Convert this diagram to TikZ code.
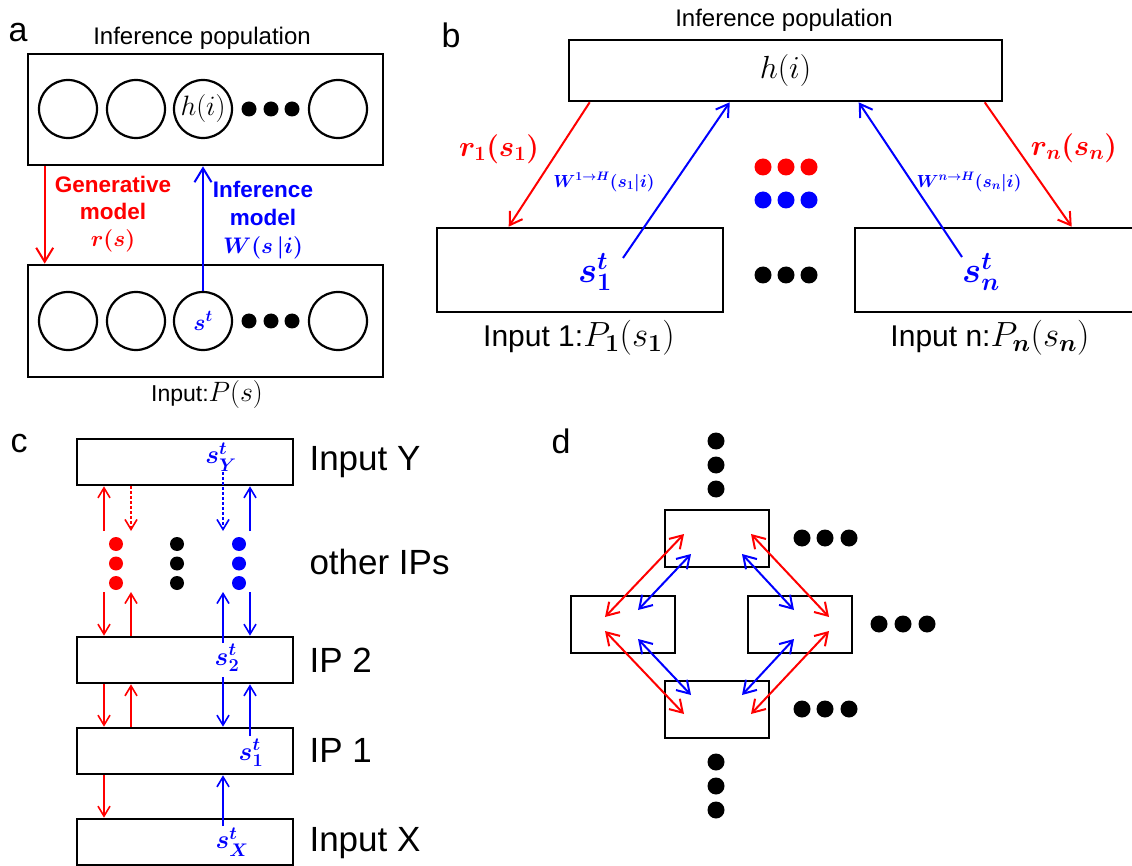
\documentclass[tikz,border=0pt]{standalone}
\usepackage{fix-cm}
\usepackage[no-math]{fontspec}
\setmainfont{Liberation Sans}
\usepackage{amsmath,bm}
\usetikzlibrary{arrows.meta}
\newcommand{\fsz}[2]{\fontsize{#1}{#2}\selectfont}
\begin{document}
\begin{tikzpicture}[x=1pt,y=-1pt,
  box/.style={draw,line width=2.6pt,inner sep=0pt},
  cell/.style={draw,circle,line width=2.2pt,minimum size=58pt,inner sep=0pt},
  bdot/.style={circle,fill=black,inner sep=0pt,minimum size=#1},
  rdot/.style={circle,fill=red,inner sep=0pt,minimum size=#1},
  udot/.style={circle,fill=blue,inner sep=0pt,minimum size=#1},
  panel/.style={font=\fsz{34}{36}},
  arrA/.style={-{Straight Barb[length=14pt,width=17pt]},line width=2pt},
  arrB/.style={-{Straight Barb[length=12pt,width=15pt]},line width=2pt},
  arrC/.style={-{Straight Barb[length=10pt,width=12pt]},line width=1.6pt},
  arrD/.style={{Straight Barb[length=12pt,width=15pt]}-{Straight Barb[length=12pt,width=15pt]},line width=2pt},
  dsh/.style={dash pattern=on 3pt off 2pt},
  sym/.style={inner sep=0pt,text=blue}
]
\useasboundingbox (0,0) rectangle (1132,866);
\fill[white] (0,0) rectangle (1132,866);

%% ---------------- panel a ----------------
\node[panel] (la) at (18,33) {a};
\node[font=\fsz{24}{26}] (atitle) at (202,38) {Inference population};
\node[box,minimum width=355pt,minimum height=111pt] (atop) at (205.5,109.5) {};
\node[cell] (at1) at (68,109) {};
\node[cell] (at2) at (136,109) {};
\node[cell] (at3) at (203,109) {\fsz{28}{30}$h(i)$};
\node[cell] (at4) at (338,109) {};
\node[bdot=15pt] (atd1) at (249,109) {};
\node[bdot=15pt] (atd2) at (271,109) {};
\node[bdot=15pt] (atd3) at (292,109) {};
\node[box,minimum width=355pt,minimum height=112pt] (abot) at (205.5,321) {};
\node[cell] (ab1) at (68,321) {};
\node[cell] (ab2) at (136,321) {};
\node[cell] (ab3) at (203,321) {\color{blue}\fsz{23}{25}$\bm{s^t}$};
\node[cell] (ab4) at (338,321) {};
\node[bdot=15pt] (abd1) at (249,321) {};
\node[bdot=15pt] (abd2) at (271,321) {};
\node[bdot=15pt] (abd3) at (292,321) {};
\draw[arrA,red] ([xshift=18pt]atop.south west) -- ([xshift=18pt]abot.north west);
\draw[arrA,blue] (ab3.north) -- (ab3.north |- atop.south);
\node[text=red,font=\bfseries\fsz{22.5}{27},align=center] (agen) at (113,214)
  {Generative\\model\\$\bm{r(s)}$};
\node[text=blue,font=\bfseries\fsz{22.5}{28},align=center] (ainf) at (263,220)
  {Inference\\model\\$\bm{W(s\,|i)}$};
\node[font=\fsz{23}{25}] (ainput) at (207,395) {Input:\fsz{28}{30}$P(s)$};

%% ---------------- panel b ----------------
\node[panel] (lb) at (451,35) {b};
\node[font=\fsz{24}{26}] (btitle) at (784,20) {Inference population};
\node[box,minimum width=433pt,minimum height=61pt] (btop) at (785.5,70.5) {\fsz{32}{34}$h(i)$};
\node[box,minimum width=286pt,minimum height=84pt] (bl) at (580,270) {};
\node[box,minimum width=286pt,minimum height=84pt] (br) at (998,270) {};
\node[sym,font=\fsz{36}{38}] (bs1) at (595,272) {$\bm{s_1^t}$};
\node[sym,font=\fsz{36}{38}] (bsn) at (981,272) {$\bm{s_n^t}$};
\coordinate (bs1tail) at (623,258);
\coordinate (bsntail) at (962,257);
\draw[arrB,red] ([xshift=22pt]btop.south west) -- ([xshift=73pt]bl.north west);
\draw[arrB,blue] (bs1tail) -- ([xshift=162pt]btop.south west);
\draw[arrB,blue] (bsntail) -- ([xshift=291pt]btop.south west);
\draw[arrB,red] ([xshift=417pt]btop.south west) -- ([xshift=218pt]br.north west);
\node[text=red,font=\fsz{29}{31}] (br1) at (499,149) {$\bm{r_1(s_1)}$};
\node[text=red,font=\fsz{29}{31}] (brn) at (1074,148) {$\bm{r_n(s_n)}$};
\node[text=blue,font=\fsz{17.5}{19}] (bw1) at (604,182) {$\bm{W^{1\to H}(s_1|i)}$};
\node[text=blue,font=\fsz{17.5}{19}] (bwn) at (969,182) {$\bm{W^{n\to H}(s_n|i)}$};
\foreach \i/\x in {1/763,2/786,3/809}{
  \node[rdot=17pt] (brd\i) at (\x,167) {};
  \node[udot=17pt] (bud\i) at (\x,200) {};
  \node[bdot=17pt] (bbd\i) at (\x,275) {};
}
\node[font=\fsz{30}{32}] (bin1) at (579,338) {Input 1:\fsz{35}{37}$P_{\bm 1}(s_{\bm 1})$};
\node[font=\fsz{30}{32}] (binn) at (990,338) {Input n:\fsz{35}{37}$P_{\bm n}(s_{\bm n})$};

%% ---------------- panel c ----------------
\node[panel] (lc) at (19,444) {c};
\node[box,minimum width=216pt,minimum height=46pt] (cY) at (185,462) {};
\node[box,minimum width=216pt,minimum height=46pt] (c2) at (185,660) {};
\node[box,minimum width=216pt,minimum height=46pt] (c1) at (185,751) {};
\node[box,minimum width=216pt,minimum height=46pt] (cX) at (185,842) {};
\node[sym,font=\fsz{26}{28}] (sY) at (221,457) {$\bm{s_Y^t}$};
\node[sym,font=\fsz{26}{28}] (s2) at (227,658) {$\bm{s_2^t}$};
\node[sym,font=\fsz{26}{28}] (s1) at (251,753) {$\bm{s_1^t}$};
\node[sym,font=\fsz{26}{28}] (sX) at (232,842) {$\bm{s_X^t}$};
\node[font=\fsz{35}{37},anchor=west] (tY) at (306,462) {Input Y};
\node[font=\fsz{35}{37},anchor=west] (tO) at (306,562) {other IPs};
\node[font=\fsz{35}{37},anchor=west] (t2) at (306,660) {IP 2};
\node[font=\fsz{35}{37},anchor=west] (t1) at (306,750) {IP 1};
\node[font=\fsz{35}{37},anchor=west] (tX) at (306,843) {Input X};
\foreach \i/\y in {1/544,2/563.5,3/583}{
  \node[rdot=14pt] (crd\i) at (116,\y) {};
  \node[bdot=14pt] (cbd\i) at (177,\y) {};
  \node[udot=14pt] (cud\i) at (239,\y) {};
}
\coordinate (x1) at (104,0);
\coordinate (x2) at (131,0);
\coordinate (x3) at (223,0);
\coordinate (x4) at (250,0);
\coordinate (cA) at (0,531);
\coordinate (cB) at (0,592);
\coordinate (cS2t) at (0,643);
\coordinate (cS2b) at (0,677);
\coordinate (cS1t) at (0,736);
\coordinate (cSXt) at (0,826);
\coordinate (cSYb) at (0,472);
% Input Y <-> other IPs
\draw[arrC,red] (x1 |- cA) -- (x1 |- cY.south);
\draw[arrC,red,dsh] (x2 |- cY.south) -- (x2 |- cA);
\draw[arrC,blue,dsh] (x3 |- cSYb) -- (x3 |- cA);
\draw[arrC,blue] (x4 |- cA) -- (x4 |- cY.south);
% other IPs <-> IP 2
\draw[arrC,red] (x1 |- cB) -- (x1 |- c2.north);
\draw[arrC,red] (x2 |- c2.north) -- (x2 |- cB);
\draw[arrC,blue] (x3 |- cS2t) -- (x3 |- cB);
\draw[arrC,blue] (x4 |- cB) -- (x4 |- c2.north);
% IP 2 <-> IP 1
\draw[arrC,red] (x1 |- c2.south) -- (x1 |- c1.north);
\draw[arrC,red] (x2 |- c1.north) -- (x2 |- c2.south);
\draw[arrC,blue] (x3 |- cS2b) -- (x3 |- c1.north);
\draw[arrC,blue] (x4 |- cS1t) -- (x4 |- c2.south);
% IP 1 <-> Input X
\draw[arrC,red] (x1 |- c1.south) -- (x1 |- cX.north);
\draw[arrC,blue] (x3 |- cSXt) -- (x3 |- c1.south);

%% ---------------- panel d ----------------
\node[panel] (ld) at (561,441) {d};
\node[box,minimum width=104pt,minimum height=57pt] (dT) at (717,538.5) {};
\node[box,minimum width=104pt,minimum height=57pt] (dL) at (623,624.5) {};
\node[box,minimum width=104pt,minimum height=57pt] (dR) at (800,624.5) {};
\node[box,minimum width=104pt,minimum height=57pt] (dB) at (717,709.5) {};
\foreach \i/\y in {1/441,2/465,3/489}{\node[bdot=17pt] (dtd\i) at (716,\y) {};}
\foreach \i/\y in {1/762,2/786,3/810}{\node[bdot=17pt] (dbd\i) at (716,\y) {};}
\foreach \i/\x in {1/802,2/825,3/849}{
  \node[bdot=17pt] (dtr\i) at (\x,538) {};
  \node[bdot=17pt] (dbr\i) at (\x,709) {};
}
\foreach \i/\x in {1/879,2/903,3/927}{\node[bdot=17pt] (drr\i) at (\x,624) {};}
\coordinate (pTrl) at (684,534);  \coordinate (pTbl) at (691,554);
\coordinate (pTrr) at (751,534);  \coordinate (pTbr) at (742,554);
\coordinate (pLrt) at (605,617);  \coordinate (pLbt) at (638,610);
\coordinate (pLrb) at (605,631);  \coordinate (pLbb) at (638,639);
\coordinate (pRrt) at (829,617);  \coordinate (pRbt) at (794,610);
\coordinate (pRrb) at (829,631);  \coordinate (pRbb) at (794,639);
\coordinate (pBrl) at (684,714);  \coordinate (pBbl) at (691,695);
\coordinate (pBrr) at (751,714);  \coordinate (pBbr) at (742,695);
\draw[arrD,red] (pTrl) -- (pLrt);
\draw[arrD,blue] (pTbl) -- (pLbt);
\draw[arrD,red] (pTrr) -- (pRrt);
\draw[arrD,blue] (pTbr) -- (pRbt);
\draw[arrD,red] (pLrb) -- (pBrl);
\draw[arrD,blue] (pLbb) -- (pBbl);
\draw[arrD,red] (pRrb) -- (pBrr);
\draw[arrD,blue] (pRbb) -- (pBbr);
\end{tikzpicture}
\end{document}
